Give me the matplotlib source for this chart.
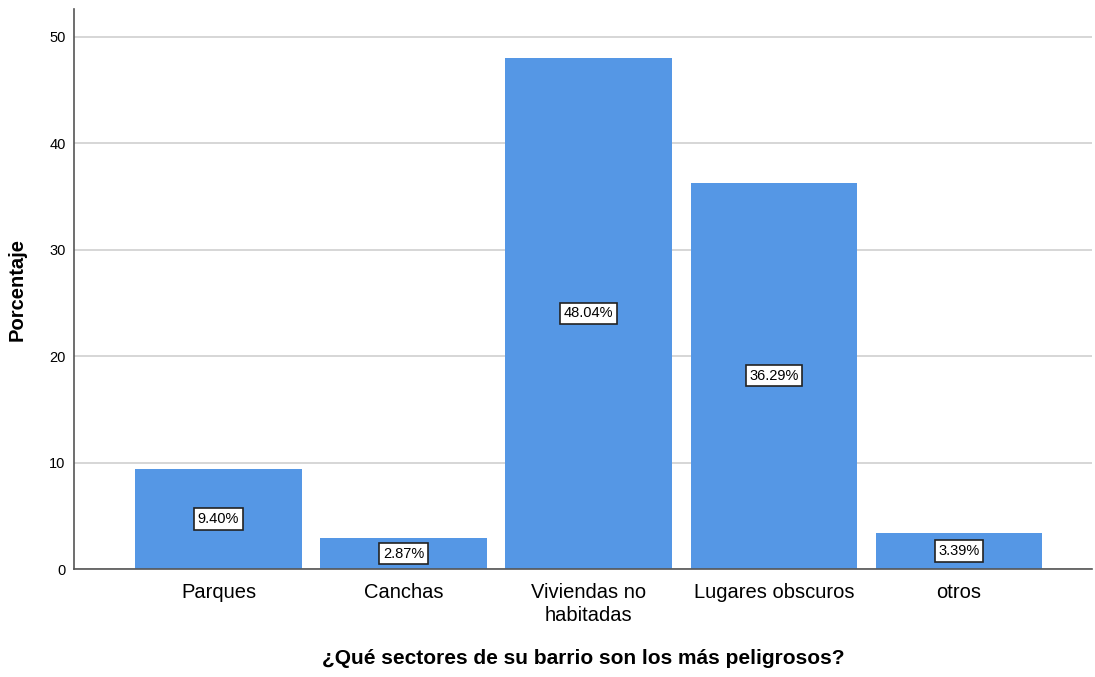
import matplotlib.pyplot as plt

categories = ['Parques', 'Canchas', 'Viviendas no\nhabitadas', 'Lugares obscuros', 'otros']
percentages = [9.40, 2.87, 48.04, 36.29, 3.39]
yticks = [0, 10, 20, 30, 40, 50]

plt.rcParams['font.family'] = ['Liberation Sans', 'DejaVu Sans']

fig = plt.figure(figsize=(10.95, 6.77), dpi=100)
ax = fig.add_axes([0.0676, 0.1595, 0.93, 0.8272])

x = range(len(categories))
ax.bar(x, percentages, width=0.9, color='#5597e5', zorder=2)

for xi, v in zip(x, percentages):
    ax.text(xi, v / 2, f'{v:.2f}%', ha='center', va='center', fontsize=10.5, zorder=3,
            bbox=dict(boxstyle='square,pad=0.25', facecolor='white', edgecolor='#222222', linewidth=1.2))

ax.set_xlim(-0.78, 4.72)
ax.set_ylim(0, 52.6)
ax.set_yticks(yticks)
ax.set_xticks(list(x))
ax.set_xticklabels(categories, fontsize=14.5, linespacing=1.3)
ax.tick_params(axis='y', labelsize=10.5, length=0, pad=6)
ax.tick_params(axis='x', length=0, pad=10)

ax.grid(axis='y', color='#d0d0d0', linewidth=1.2, zorder=0)
for s in ['top', 'right']:
    ax.spines[s].set_visible(False)
for s in ['left', 'bottom']:
    ax.spines[s].set_color('#555555')
    ax.spines[s].set_linewidth(1.2)

ax.set_ylabel('Porcentaje', fontsize=14.5, fontweight='bold', labelpad=16)
ax.set_xlabel('¿Qué sectores de su barrio son los más peligrosos?', fontsize=15,
              fontweight='bold', labelpad=17)

fig.savefig('out.png', dpi=100)
